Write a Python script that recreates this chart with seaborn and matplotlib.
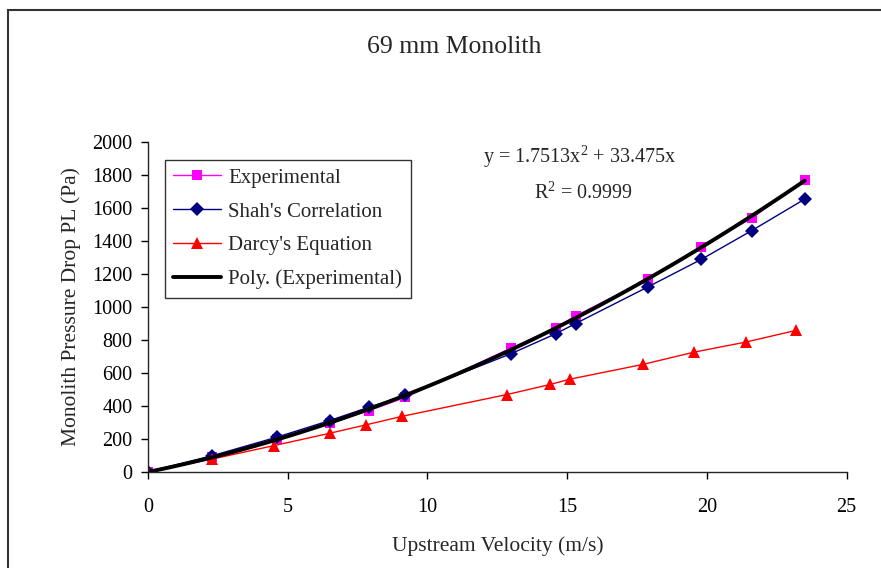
import numpy as np
import pandas as pd
import seaborn as sns
import matplotlib.pyplot as plt
from matplotlib.patches import Rectangle

# values
exp_velocity = [0, 2.3, 4.6, 6.5, 7.9, 9.2, 13.0, 14.6, 15.3, 17.9, 19.8, 21.6, 23.5]
exp_drop = [0, 90, 200, 293, 370, 450, 750, 873, 944, 1168, 1364, 1536, 1769]
shah_velocity = [0, 2.3, 4.6, 6.5, 7.9, 9.2, 13.0, 14.6, 15.3, 17.9, 19.8, 21.6, 23.5]
shah_drop = [0, 97, 209, 310, 391, 462, 716, 837, 898, 1121, 1287, 1461, 1652]
darcy_velocity = [0, 2.3, 4.5, 6.5, 7.8, 9.1, 12.85, 14.4, 15.1, 17.7, 19.55, 21.4, 23.2]
darcy_drop = [0, 77, 158, 233, 284, 336, 468, 529, 561, 650, 725, 786, 857]

x_ticks = [0, 5, 10, 15, 20, 25]
y_ticks = [0, 200, 400, 600, 800, 1000, 1200, 1400, 1600, 1800, 2000]

sns.set_style("ticks")
plt.rcParams['font.family'] = ['Liberation Serif', 'DejaVu Serif']
plt.rcParams['mathtext.fontset'] = 'custom'
plt.rcParams['mathtext.rm'] = 'Liberation Serif'
plt.rcParams['mathtext.it'] = 'Liberation Serif:italic'

fig = plt.figure(figsize=(8.81, 5.68), dpi=100)
ax = fig.add_axes([0.168, 0.1695, 0.793, 0.581])

# border around the whole chart area
fig.patches.append(Rectangle((8 / 881, -0.05), 1.05, 1 - 10 / 568 + 0.05,
                             transform=fig.transFigure, fill=False,
                             edgecolor='#333333', linewidth=1.5))

exp = pd.DataFrame({"v": exp_velocity, "p": exp_drop})

sns.lineplot(x=exp_velocity, y=exp_drop, ax=ax, color='#FF00FF', lw=1,
             marker='s', markersize=7.5, markeredgewidth=0, label='Experimental')
sns.lineplot(x=shah_velocity, y=shah_drop, ax=ax, color='#000080', lw=1,
             marker='D', markersize=7, markeredgewidth=0, label="Shah's Correlation")
sns.lineplot(x=darcy_velocity, y=darcy_drop, ax=ax, color='#FF0000', lw=1,
             marker='^', markersize=9, markeredgewidth=0, label="Darcy's Equation")
sns.regplot(data=exp, x="v", y="p", order=2, ci=None, scatter=False, ax=ax,
            label='Poly. (Experimental)', color='black',
            line_kws=dict(lw=2.8))

ax.set_xlim(0, 25)
ax.set_ylim(0, 2000)
ax.set_xticks(x_ticks)
ax.set_yticks(y_ticks)
ax.tick_params(labelsize=14.5, length=5, width=1, colors='black')
ax.tick_params(axis='x', pad=14)
ax.tick_params(axis='y', pad=6)
ax.set_xlabel("Upstream Velocity (m/s)", fontsize=15.5, labelpad=14)
ax.set_ylabel("Monolith Pressure Drop PL (Pa)", fontsize=15.5, labelpad=8)
ax.spines['left'].set_linewidth(1)
ax.spines['bottom'].set_linewidth(1)
sns.despine(ax=ax)

fig.text(0.516, 0.918, "69 mm Monolith", ha='center', va='center', fontsize=18.5)

ax.text(0.618, 0.955, "y = 1.7513x$^2$ + 33.475x", transform=ax.transAxes,
        ha='center', va='center', fontsize=14.5)
ax.text(0.623, 0.845, "R$^2$ = 0.9999", transform=ax.transAxes,
        ha='center', va='center', fontsize=14.5)

leg = ax.legend(loc='upper left', bbox_to_anchor=(0.024, 0.945), fontsize=15,
                frameon=True, fancybox=False, borderpad=0.4, labelspacing=0.68,
                handlelength=2.3, handletextpad=0.35, borderaxespad=0)
leg.get_frame().set_edgecolor('black')
leg.get_frame().set_linewidth(1)

fig.savefig("out.png", dpi=100)
